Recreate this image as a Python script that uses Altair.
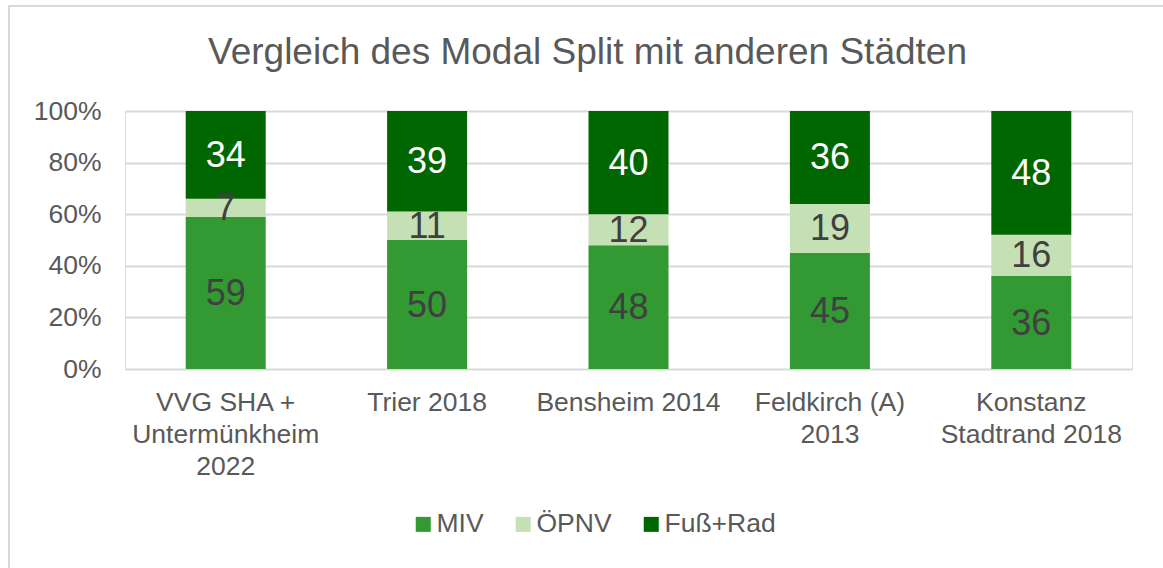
import altair as alt
import pandas as pd

cities = ["VVG SHA +|Untermünkheim|2022", "Trier 2018", "Bensheim 2014",
          "Feldkirch (A)|2013", "Konstanz|Stadtrand 2018"]
modes = ["MIV", "ÖPNV", "Fuß+Rad"]
miv = [59, 50, 48, 45, 36]
oepnv = [7, 11, 12, 19, 16]
fuss = [34, 39, 40, 36, 48]
colors = ["#339933", "#c5e0b4", "#006600"]
y_ticks = [0, 20, 40, 60, 80, 100]

rows = []
for i, c in enumerate(cities):
    for k, (m, vals) in enumerate(zip(modes, [miv, oepnv, fuss])):
        rows.append({"city": c, "mode": m, "order": k, "value": vals[i]})
df = pd.DataFrame(rows)

FONT = "Liberation Sans"
GRAY = "#595959"

base = alt.Chart(df).transform_stack(
    stack="value", as_=["y0", "y1"], groupby=["city"],
    sort=[alt.SortField("order", order="ascending")]
).transform_calculate(mid="(datum.y0 + datum.y1) / 2")

x_enc = alt.X("city:N", sort=cities, title=None,
              axis=alt.Axis(labelExpr="split(datum.label, '|')", labelAngle=0,
                            labelFontSize=26.5, labelColor=GRAY, labelFont=FONT,
                            labelLineHeight=32, labelPadding=20, ticks=False,
                            domain=False, labelBaseline="top", labelLimit=0))

bars = base.mark_bar(size=80).encode(
    x=x_enc,
    y=alt.Y("y0:Q", scale=alt.Scale(domain=[0, 100], nice=False), title=None,
            axis=alt.Axis(values=y_ticks, labelExpr="datum.value + '%'",
                          labelFontSize=26.5, labelColor=GRAY, labelFont=FONT,
                          labelPadding=24, ticks=False, domain=False,
                          grid=True, gridColor="#d9d9d9", gridWidth=2)),
    y2="y1:Q",
    color=alt.Color("mode:N", sort=modes,
                    scale=alt.Scale(domain=modes, range=colors),
                    legend=alt.Legend(title=None, orient="none", direction="horizontal",
                                      legendX=285, legendY=400,
                                      symbolType="square", symbolSize=225,
                                      symbolStrokeWidth=0, labelFontSize=26.5,
                                      labelColor=GRAY, labelFont=FONT,
                                      columnPadding=26, labelOffset=0, padding=0)),
)

labels = base.mark_text(fontSize=36, font=FONT, baseline="middle", dy=1).encode(
    x=alt.X("city:N", sort=cities),
    y="mid:Q",
    text="value:Q",
    color=alt.condition(alt.datum.mode == "Fuß+Rad", alt.value("white"), alt.value("#404040")),
)

frame_data = alt.Data(values=[{"a": 1}])
left_line = alt.Chart(frame_data).mark_rule(color="#d9d9d9", strokeWidth=2).encode(
    x=alt.value(-116), y=alt.value(-105), y2=alt.value(460))
top_line = alt.Chart(frame_data).mark_rule(color="#d9d9d9", strokeWidth=2).encode(
    x=alt.value(-117), x2=alt.value(1040), y=alt.value(-105))

chart = alt.layer(bars, labels, left_line, top_line).properties(
    width=1007, height=258,
    title=alt.TitleParams("Vergleich des Modal Split mit anderen Städten",
                          fontSize=37, font=FONT, color=GRAY, fontWeight="normal",
                          anchor="middle", dx=-41, baseline="alphabetic", offset=-96),
    autosize=alt.AutoSizeParams(type="none"),
    padding={"left": 125, "top": 111, "right": 31, "bottom": 199},
).configure_view(stroke=None).configure(background="white")

chart.save("out.html", embed_options={"renderer": "svg", "actions": False})
